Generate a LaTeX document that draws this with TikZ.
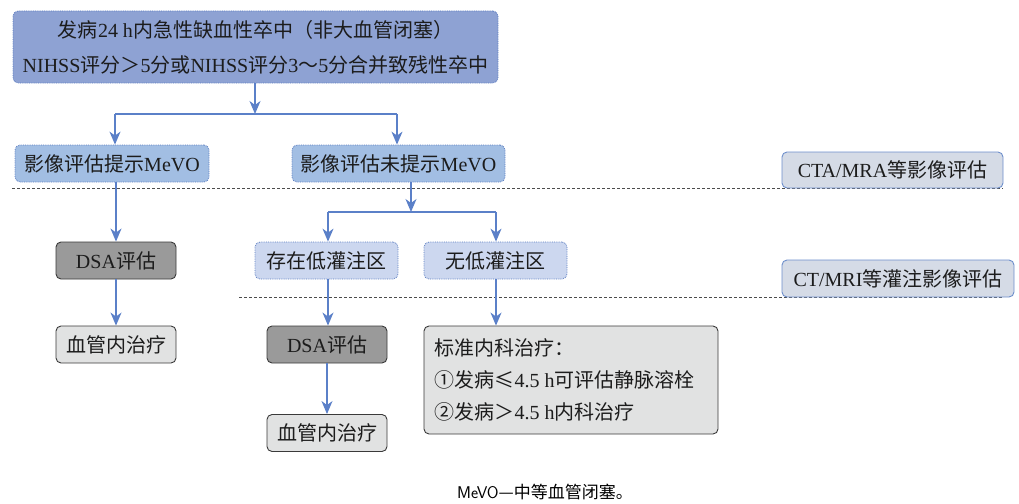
\documentclass[tikz,border=0pt]{standalone}
\usepackage{fontspec}
\setmainfont{Liberation Serif}
\newfontfamily\cjkfont{Noto Sans CJK SC}
\newcommand{\zh}[1]{{\cjkfont #1}}
\usetikzlibrary{arrows.meta}
\definecolor{topfill}{HTML}{8EA2D3}
\definecolor{midfill}{HTML}{A2BEE3}
\definecolor{perffill}{HTML}{CCD7EF}
\definecolor{dotborder}{HTML}{5C7DC0}
\definecolor{dsafill}{HTML}{9A9A9A}
\definecolor{curefill}{HTML}{E1E2E2}
\definecolor{darkborder}{HTML}{3A3A3A}
\definecolor{labfill}{HTML}{D5DBE6}
\definecolor{labborder}{HTML}{6D8ECB}
\definecolor{arrowblue}{HTML}{5B80C8}
\definecolor{txt}{HTML}{1C1C1C}
\tikzset{
  box/.style={rectangle, rounded corners=5pt, inner sep=0pt, text=txt, align=center},
  dotbox/.style={box, draw=dotborder, densely dotted, line width=0.8pt},
  solidbox/.style={box, draw=darkborder, line width=0.9pt},
  labbox/.style={box, draw=labborder, line width=0.9pt, fill=labfill},
  arr/.style={draw=arrowblue, line width=1.2pt, -{Stealth[length=13pt,width=11pt,inset=4pt]}},
  conn/.style={draw=arrowblue, line width=1.2pt},
  sep/.style={draw=black!70, line width=0.9pt, dash pattern=on 3pt off 2pt},
}
\begin{document}
\begin{tikzpicture}[x=1pt,y=-1pt,font=\fontsize{20}{35}\selectfont]
\useasboundingbox (0,0) rectangle (1019,503);

% separators
\draw[sep] (12,188.5) -- (1003,188.5);
\draw[sep] (239,297.5) -- (1003,297.5);

% nodes
\node[dotbox, fill=topfill, minimum width=485pt, minimum height=72pt] (top) at (255.5,47)
  {\zh{发病}24 h\zh{内急性缺血性卒中（非大血管闭塞）}\\NIHSS\zh{评分}\zh{＞}5\zh{分或}NIHSS\zh{评分}3\zh{～}5\zh{分合并致残性卒中}};
\node[dotbox, fill=midfill, minimum width=194pt, minimum height=37pt] (mevo) at (112,163.5)
  {\zh{影像评估提示}MeVO};
\node[dotbox, fill=midfill, minimum width=213pt, minimum height=37pt] (nomevo) at (398.5,163.5)
  {\zh{影像评估未提示}MeVO};
\node[dotbox, fill=perffill, minimum width=143pt, minimum height=37pt] (perf) at (326.5,260.5)
  {\zh{存在低灌注区}};
\node[dotbox, fill=perffill, minimum width=143pt, minimum height=37pt] (noperf) at (495.5,260.5)
  {\zh{无低灌注区}};
\node[solidbox, fill=dsafill, minimum width=120pt, minimum height=37pt] (dsa1) at (116,260.5)
  {DSA\zh{评估}};
\node[solidbox, fill=curefill, minimum width=120pt, minimum height=37pt] (cure1) at (116,344.5)
  {\zh{血管内治疗}};
\node[solidbox, fill=dsafill, minimum width=120pt, minimum height=37pt] (dsa2) at (327,344.5)
  {DSA\zh{评估}};
\node[solidbox, fill=curefill, minimum width=120pt, minimum height=37pt] (cure2) at (327,433)
  {\zh{血管内治疗}};
\node[solidbox, fill=curefill, minimum width=294pt, minimum height=108pt] (std) at (571,380) {};
\node[anchor=west, text=txt, align=left, font=\fontsize{20}{32}\selectfont] (stdtext) at (431,380)
  {\zh{标准内科治疗：}\\\zh{①发病≤}4.5 h\zh{可评估静脉溶栓}\\\zh{②发病}\zh{＞}4.5 h\zh{内科治疗}};

\node[labbox, minimum width=221pt, minimum height=36pt] (cta) at (892.5,170)
  {CTA/MRA\zh{等影像评估}};
\node[labbox, minimum width=232pt, minimum height=37pt] (ctp) at (898,278.5)
  {CT/MRI\zh{等灌注影像评估}};

% caption
\node[text=black, font=\fontsize{17}{20}\selectfont] (cap) at (545,492)
  {\sffamily MeVO\zh{—中等血管闭塞。}};

% connectors
\coordinate (j1) at (255,114);
\coordinate (j1l) at (115,114);
\coordinate (j1r) at (397,114);
\draw[arr] (top.south -| j1) -- (j1);
\draw[conn] (j1l) -- (j1r);
\draw[arr] (j1l) -- (j1l |- mevo.north);
\draw[arr] (j1r) -- (j1r |- nomevo.north);

\coordinate (j2) at (411,212);
\coordinate (j2l) at (328,212);
\coordinate (j2r) at (496,212);
\draw[arr] (nomevo.south -| j2) -- (j2);
\draw[conn] (j2l) -- (j2r);
\draw[arr] (j2l) -- (j2l |- perf.north);
\draw[arr] (j2r) -- (j2r |- noperf.north);

\draw[arr] (mevo.south -| dsa1.north) -- (dsa1.north);
\draw[arr] (dsa1) -- (cure1);
\draw[arr] (perf.south -| j2l) -- (j2l |- dsa2.north);
\draw[arr] (dsa2) -- (cure2);
\draw[arr] (noperf.south -| j2r) -- (j2r |- std.north);
\end{tikzpicture}
\end{document}
